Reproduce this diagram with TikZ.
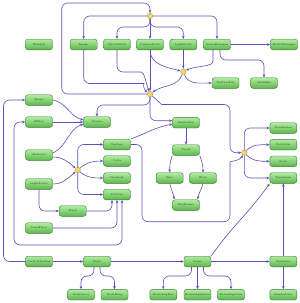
\documentclass[tikz,border=0pt]{standalone}
\usetikzlibrary{arrows.meta,positioning}
\definecolor{verdeclaro}{HTML}{B2EAA3}
\definecolor{verdeosc}{HTML}{5BB84B}
\definecolor{borde}{HTML}{3B7A31}
\definecolor{lila}{HTML}{5B4FB8}
\definecolor{amarillo}{HTML}{F4D66E}
\definecolor{ambar}{HTML}{C29B35}
\definecolor{tinta}{HTML}{1E3A19}

\begin{document}
\begin{tikzpicture}[x=1pt, y=-1pt, >={Stealth[length=3.2pt,width=2.6pt]},
    clase/.style={draw=borde, line width=0.4pt, rounded corners=2.5pt, top color=verdeclaro,
                  bottom color=verdeosc, minimum width=27pt, minimum height=10.6pt, inner sep=0pt,
                  text=tinta, font=\fontsize{2.6}{3}\selectfont},
    union/.style={circle, draw=ambar, fill=amarillo, line width=0.4pt, minimum size=5.5pt, inner sep=0pt},
    enlace/.style={draw=lila, line width=0.6pt, ->, rounded corners=6pt}]
  \useasboundingbox (0,0) rectangle (300,303);
  % fila de arriba
  \node[clase] (win)  at (39,44.5)    {Window};
  \node[clase] (img)  at (83.7,44.5)  {Image};
  \node[clase] (mov)  at (117,44.5)   {MovieBlock};
  \node[clase] (cam)  at (150,44.5)   {CameraNode};
  \node[clase] (lit)  at (183.3,44.5) {LightNode};
  \node[clase] (sman) at (217,44.5)   {SceneManager};
  \node[clase] (mman) at (284,44.5)   {ModelManager};
  \node[clase] (tfile) at (225.5,83)  {TextureFile};
  \node[clase] (tmat)  at (264,83)    {MeshFile};
  % uniones
  \node[union] (j1) at (150,16) {};
  \node[union] (j2) at (183.3,71.7) {};
  \node[union] (j3) at (150,94) {};
  \node[union] (j4) at (77.7,170) {};
  \node[union] (j5) at (244.3,152.7) {};
  % columna izquierda
  \node[clase] (shp)    at (39,100)   {Shape};
  \node[clase] (eff)    at (39,122)   {Effect};
  \node[clase] (view)   at (97,122)   {Viewer};
  \node[clase] (mat)    at (39,155)   {Material};
  \node[clase] (lprobe) at (39,184)   {LightProbe};
  \node[clase] (mesh)   at (72.7,211) {Mesh};
  \node[clase] (lens)   at (39,228)   {LensFlare};
  % texturas
  \node[clase] (tex)  at (117,144.5) {Texture};
  \node[clase] (col)  at (117,161)   {Color};
  \node[clase] (grad) at (117,178)   {Gradient};
  \node[clase] (pat)  at (117,194.5) {Pattern};
  % animacion
  \node[clase] (anim)  at (186,122.7) {Animation};
  \node[clase] (track) at (186,150)   {Track};
  \node[clase] (sine)  at (169.7,178) {Sine};
  \node[clase] (wave)  at (203,178)   {Wave};
  \node[clase] (key)   at (186,205)   {KeyFrame};
  % columna derecha
  \node[clase] (trans) at (283.3,128)   {Translation};
  \node[clase] (rot)   at (283.3,144.7) {Rotation};
  \node[clase] (scl)   at (283.3,161.3) {Scale};
  \node[clase] (seqn)  at (283.3,178)   {Transform};
  % fila de abajo
  \node[clase] (psys)  at (39,261.5)    {ParticleSystem};
  \node[clase] (nodo)  at (97,261.5)    {Node};
  \node[clase] (narr)  at (81,294.7)    {NodeArray};
  \node[clase] (nring) at (114.5,294.7) {NodeRing};
  \node[clase] (scene) at (197.5,261.5) {Scene};
  \node[clase] (rend)  at (283.3,261.5) {Renderer};
  \node[clase] (bb1)   at (163.3,294.7) {BoundingBox};
  \node[clase] (bb2)   at (197.5,294.7) {BoundingSphere};
  \node[clase] (bb3)   at (231,294.7)   {BoundingCone};
  \node[clase] (rpass) at (283.3,294.7) {RenderPass};

  % arriba
  \draw[enlace] (j3.west) -| (61.7,3) -| (j1.north);
  \draw[enlace] (j1.west) -| (img.north);
  \draw[enlace] (j1.south) -- ++(0,8) -| (mov.north);
  \draw[enlace] (j1.south) -- (cam.north);
  \draw[enlace] (j1.south) -- ++(0,8) -| (lit.north);
  \draw[enlace] (j1.east) -| (sman.north);
  \draw[enlace] (img.south) |- (138,83.5) to[out=0,in=145] (j3);
  \draw[enlace] (mov.south) |- (135,72) to[out=0,in=110] (j3);
  \draw[enlace] (cam.south) -- (j3);
  \draw[enlace] (cam.south) to[out=-90,in=165] (j2);
  \draw[enlace] (lit.south) -- (j2);
  \draw[enlace] ([xshift=-4pt]sman.south) -- ++(0,5) to[out=-90,in=25] (j2);
  \draw[enlace] ([xshift=3pt]sman.south) -- ++(0,10) -| (tmat.north);
  \draw[enlace] (sman) -- (mman);
  \draw[enlace] (j2) to[out=-70,in=180] (tfile.west);
  \draw[enlace] (j2) to[out=-110,in=35] (j3);
  % salidas de j3
  \draw[enlace] (j3.south) -- ++(0,8) -| (view.north);
  \draw[enlace] (j3.south) |- ([yshift=2pt]anim.west);
  \draw[enlace] (j3) to[out=-40,in=180] (168,104.5) -- (230,104.5) |- (j5.west);
  \draw[enlace] (tex.east) -| (142,221.7) -| (230,168) to[out=90,in=-120] (j5);
  \draw[enlace] (tex.north east) to[out=20,in=190] ([yshift=-1.5pt]anim.west);
  % salidas de j5
  \draw[enlace] (j5.north) |- (trans.west);
  \draw[enlace] (j5) to[out=45,in=180] (rot.west);
  \draw[enlace] (j5) to[out=-45,in=180] (scl.west);
  \draw[enlace] (j5.south) |- (seqn.west);
  % animacion
  \draw[enlace] (anim) -- (track);
  \draw[enlace] (track.south west) to[out=-110,in=90] (sine.north);
  \draw[enlace] (track.south east) to[out=-70,in=90] (wave.north);
  \draw[enlace] (sine.south) to[out=-75,in=100] ([xshift=2pt]key.north west);
  \draw[enlace] (wave.south) to[out=-105,in=80] ([xshift=-2pt]key.north east);
  % izquierda
  \draw[enlace] (shp.east) to[out=-10,in=165] ([yshift=2pt]view.west);
  \draw[enlace] (eff) -- (view);
  \draw[enlace] ([yshift=2pt]mat.east) to[out=25,in=200] ([yshift=-2pt]view.west);
  \draw[enlace] ([yshift=-2pt]mat.east) to[out=0,in=140] (j4);
  \draw[enlace] (lprobe.east) to[out=0,in=-140] (j4);
  \draw[enlace] (j4.north) |- (tex.west);
  \draw[enlace] (j4) to[out=40,in=180] (col.west);
  \draw[enlace] (j4) to[out=-40,in=180] (grad.west);
  \draw[enlace] (j4.south) |- (pat.west);
  \draw[enlace] (lprobe.south) |- (mesh.west);
  \draw[enlace] (mesh.east) -| ([xshift=-5pt]pat.south);
  \draw[enlace] (lens.east) -| (pat.south);
  \draw[enlace, <->] ([xshift=5pt]pat.south) |- (14,245) |- (eff.west);
  \draw[enlace] (psys.west) -| (3.5,100) -- (shp.west);
  % abajo
  \draw[enlace] (psys) -- (nodo);
  \draw[enlace] ([xshift=-3pt]nodo.south) -- ++(0,9) -| (narr.north);
  \draw[enlace] ([xshift=3pt]nodo.south) -- ++(0,9) -| (nring.north);
  \draw[enlace] (nodo) -- (scene);
  \draw[enlace] (scene) -- (rend);
  \draw[enlace] ([xshift=-6pt]scene.south) -- ++(0,9) -| (bb1.north);
  \draw[enlace] (scene) -- (bb2);
  \draw[enlace] ([xshift=6pt]scene.south) -- ++(0,9) -| (bb3.north);
  \draw[enlace] (scene.north east) to[out=55,in=235] (seqn.south west);
  \draw[enlace] (rend) -- (seqn);
  \draw[enlace] (rend) -- (rpass);
\end{tikzpicture}
\end{document}
